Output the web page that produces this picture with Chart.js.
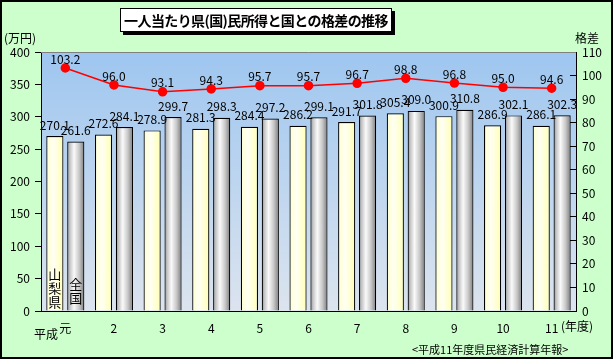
<!DOCTYPE html>
<html>
<head>
<meta charset="utf-8">
<script src="https://cdn.jsdelivr.net/npm/chart.js@4.4.0/dist/chart.umd.min.js"></script>
<style>
  html, body { margin: 0; padding: 0; background: #ccffcc; }
  #wrap { position: relative; width: 613px; height: 359px; }
  #title {
    position: absolute; left: 120px; top: 8px; width: 270px; height: 22px;
    background: #fff; border: 1px solid #000; box-shadow: 3px 3px 0 #000;
    font: bold 14px "Noto Sans CJK JP", sans-serif; line-height: 22px;
    letter-spacing: -0.6px;
    text-align: center; color: #000; white-space: nowrap; overflow: hidden;
  }
</style>
</head>
<body>
<div id="wrap">
  <canvas id="chart" width="613" height="359"></canvas>
  <div id="title">一人当たり県(国)民所得と国との格差の推移</div>
</div>
<script>
// 年度（平成）
const years = ['元', '2', '3', '4', '5', '6', '7', '8', '9', '10', '11'];
// 一人当たり県民所得（山梨県）・国民所得（全国）　単位：万円
const yamanashiIncome = [270.1, 272.6, 278.9, 281.3, 284.4, 286.2, 291.7, 305.4, 300.9, 286.9, 286.1];
const nationalIncome = [261.6, 284.1, 299.7, 298.3, 297.2, 299.1, 301.8, 309.0, 310.8, 302.1, 302.3];
// 国との格差（全国=100）
const gapIndex = [103.2, 96.0, 93.1, 94.3, 95.7, 95.7, 96.7, 98.8, 96.8, 95.0, 94.6];

const JP = '"Noto Sans CJK JP", sans-serif';
const CAT_PCT = 0.86;
const BAR_PCT = 0.82;

const creamStops = [[0, '#ffffcc'], [0.4, '#fffff4'], [1, '#ffffb4']];
const grayStops = [[0, '#8c8c8c'], [0.15, '#c4c4c4'], [0.4, '#fafafa'], [0.7, '#c8c8c8'], [1, '#7c7c7c']];

// horizontal gradient for each bar, computed from the category scale
function barFill(stops, side) {
    return function (ctx) {
        const chart = ctx.chart;
        const area = chart.chartArea;
        const xs = chart.scales.x;
        if (!area || !xs || ctx.dataIndex === undefined) return stops[1][1];
        const catW = (area.right - area.left) / years.length;
        const slot = catW * CAT_PCT / 2;
        const cx = xs.getPixelForValue(ctx.dataIndex) + side * slot / 2;
        const w = slot * BAR_PCT;
        const g = chart.ctx.createLinearGradient(cx - w / 2, 0, cx + w / 2, 0);
        stops.forEach(s => g.addColorStop(s[0], s[1]));
        return g;
    };
}

const backgroundPlugin = {
    id: 'background',
    beforeDraw(chart) {
        const { ctx, chartArea: a, width, height } = chart;
        ctx.save();
        ctx.fillStyle = '#ccffcc';
        ctx.fillRect(0, 0, width, height);
        const g = ctx.createLinearGradient(0, a.top, 0, a.bottom);
        g.addColorStop(0, '#9ec6f0');
        g.addColorStop(1, '#dce4ee');
        ctx.fillStyle = g;
        ctx.fillRect(a.left, a.top, a.right - a.left, a.bottom - a.top);
        ctx.strokeStyle = '#000';
        ctx.lineWidth = 2;
        ctx.strokeRect(1, 1, width - 2, height - 2);
        ctx.restore();
    },
    afterDraw(chart) {
        const { ctx, chartArea: a } = chart;
        ctx.save();
        ctx.strokeStyle = '#808080';
        ctx.lineWidth = 1;
        ctx.beginPath();
        ctx.moveTo(a.left, a.top + 0.5);
        ctx.lineTo(a.right, a.top + 0.5);
        ctx.stroke();

        ctx.fillStyle = '#000';
        ctx.font = '12px ' + JP;
        ctx.textBaseline = 'middle';
        ctx.textAlign = 'left';
        ctx.fillText('(万円)', 4, 38);
        ctx.fillText('格差', 575, 38);
        ctx.fillText('(年度)', 561, 326);
        ctx.fillText('平成', 34, 334);
        ctx.font = '11px ' + JP;
        ctx.fillText('<平成11年度県民経済計算年報>', 412, 350);
        ctx.restore();
    }
};

const labelPlugin = {
    id: 'valueLabels',
    afterDatasetsDraw(chart) {
        const { ctx } = chart;
        ctx.save();
        ctx.fillStyle = '#000';
        ctx.font = '12px ' + JP;
        ctx.textAlign = 'center';
        ctx.textBaseline = 'middle';
        chart.data.datasets.forEach((ds, i) => {
            const meta = chart.getDatasetMeta(i);
            meta.data.forEach((el, j) => {
                const off = ds.type === 'line' ? 9 : 11;
                ctx.fillText(ds.data[j].toFixed(1), el.x, el.y - off);
            });
        });
        // vertical names inside the first pair of bars
        ctx.font = '13px ' + JP;
        const b0 = chart.getDatasetMeta(0).data[0];
        const b1 = chart.getDatasetMeta(1).data[0];
        ['山', '梨', '県'].forEach((c, k) => ctx.fillText(c, b0.x, 274 + k * 14));
        ['全', '国'].forEach((c, k) => ctx.fillText(c, b1.x, 284 + k * 14));
        ctx.restore();
    }
};

new Chart(document.getElementById('chart'), {
    data: {
        labels: years,
        datasets: [
            {
                type: 'bar',
                label: '山梨県',
                data: yamanashiIncome,
                yAxisID: 'y',
                backgroundColor: barFill(creamStops, -1),
                borderColor: '#000',
                borderWidth: 1.2,
                categoryPercentage: CAT_PCT,
                barPercentage: BAR_PCT,
                order: 2
            },
            {
                type: 'bar',
                label: '全国',
                data: nationalIncome,
                yAxisID: 'y',
                backgroundColor: barFill(grayStops, 1),
                borderColor: '#000',
                borderWidth: 1.2,
                categoryPercentage: CAT_PCT,
                barPercentage: BAR_PCT,
                order: 2
            },
            {
                type: 'line',
                label: '格差',
                data: gapIndex,
                yAxisID: 'y1',
                borderColor: '#ff0000',
                borderWidth: 1.5,
                pointRadius: 4,
                pointBackgroundColor: '#ff0000',
                pointBorderColor: '#ff0000',
                tension: 0,
                order: 0
            }
        ]
    },
    options: {
        responsive: false,
        animation: false,
        layout: { padding: { top: 52, left: 0, right: 0, bottom: 0 } },
        plugins: { legend: { display: false }, tooltip: { enabled: false } },
        scales: {
            x: {
                grid: { display: true, drawOnChartArea: false, drawTicks: false },
                border: { color: '#000', width: 1 },
                ticks: { color: '#000', font: { family: JP, size: 12 }, padding: 10, maxRotation: 0 },
                afterFit(s) { s.height = 48; }
            },
            y: {
                position: 'left',
                min: 0, max: 400,
                grid: { drawOnChartArea: false, tickLength: 6, color: '#000' },
                border: { color: '#000', width: 1 },
                ticks: { stepSize: 50, color: '#000', font: { family: JP, size: 12 }, padding: 5 },
                afterFit(s) { s.width = 41; }
            },
            y1: {
                position: 'right',
                min: 0, max: 110,
                grid: { drawOnChartArea: false, tickLength: -6, color: '#000' },
                border: { color: '#000', width: 1 },
                ticks: { stepSize: 10, color: '#000', font: { family: JP, size: 12 }, padding: 12 },
                afterFit(s) { s.width = 37; }
            }
        }
    },
    plugins: [backgroundPlugin, labelPlugin]
});
</script>
</body>
</html>
